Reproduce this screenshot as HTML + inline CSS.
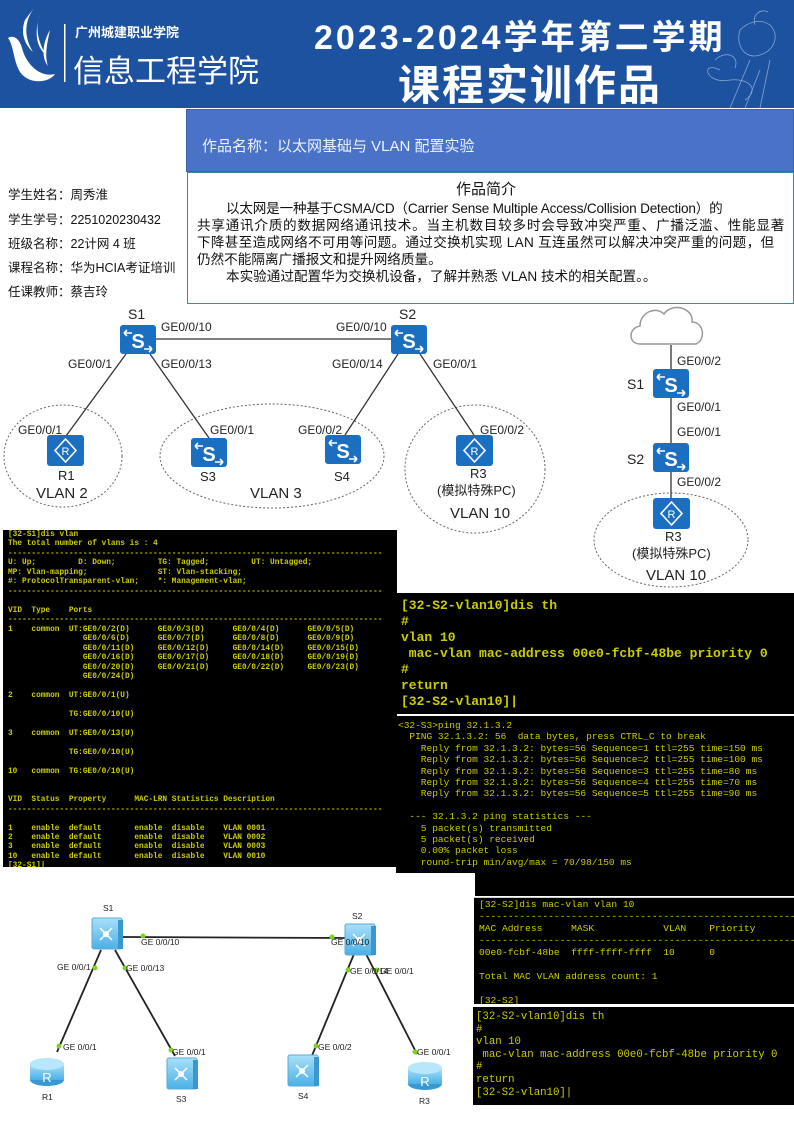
<!DOCTYPE html>
<html><head><meta charset="utf-8">
<style>
*{margin:0;padding:0;box-sizing:border-box}
body{width:794px;height:1123px;position:relative;background:#fff;overflow:hidden;font-family:"Liberation Sans","Noto Sans CJK SC",sans-serif}
.a{position:absolute;white-space:nowrap}
.term{position:absolute;background:#000;color:#cccc00;font-family:"Liberation Mono",monospace;white-space:pre;overflow:hidden}
.info{position:absolute;left:8px;font-size:12.5px;color:#111}
</style></head><body>
<!-- header -->
<div class="a" style="left:0;top:0;width:794px;height:108px;background:#1c529f"></div>
<svg class="a" style="left:0;top:0" width="794" height="110">
 <g fill="#fff">
  <path d="M34 8 C22 25 26 40 33 52 C25 45 20 33 25 20 Z"/>
  <path d="M40 14 C34 30 40 45 46 55 C38 48 33 36 40 14 Z"/>
  <path d="M8 38 C14 34 20 40 22 48 C26 64 40 78 55 74 C50 82 30 86 20 72 C13 60 14 46 8 38 Z"/>
  <path d="M50 30 C44 40 40 56 48 66 C44 54 48 40 50 30 Z"/>
 </g>
 <rect x="64" y="24" width="1.5" height="58" fill="#fff"/>
 <g fill="none" stroke="#cfdcef" stroke-width="0.8" opacity="0.6">
  <path d="M740 30 C735 45 745 60 760 55 C775 50 780 35 770 25 C760 18 748 22 740 30 Z"/>
  <path d="M755 25 C752 15 760 8 768 12"/>
  <path d="M720 70 C700 60 705 85 730 80 C750 78 760 90 745 100"/>
  <path d="M730 108 L750 60 M760 108 L770 60 M745 108 L760 70"/>
  <path d="M715 60 C725 50 740 55 735 68"/>
 </g>
</svg>
<div class="a" style="left:75px;top:22px;font-size:13px;font-weight:bold;color:#fff">广州城建职业学院</div>
<div class="a" style="left:73px;top:46px;font-size:31px;color:#fff">信息工程学院</div>
<div class="a" style="left:314px;top:10px;font-size:34px;font-weight:bold;color:#fff;letter-spacing:3px">2023-2024学年第二学期</div>
<div class="a" style="left:398px;top:52px;font-size:42px;font-weight:bold;color:#fff;letter-spacing:2px">课程实训作品</div>

<!-- title box -->
<div class="a" style="left:186px;top:109px;width:608px;height:63px;background:#4a72c6;border:1px solid #3a62b0"></div>
<div class="a" style="left:202px;top:135px;font-size:15px;color:#eef2fb">作品名称：以太网基础与 VLAN 配置实验</div>
<div class="a" style="left:187px;top:172px;width:607px;height:132px;border:1px solid #3a8a9a;background:#fff"></div>
<div class="a" style="left:456px;top:178px;font-size:15px;color:#111">作品简介</div>
<div class="a" style="left:197px;top:200px;font-size:13.6px;line-height:17px;color:#111">
<div style="padding-left:29px;letter-spacing:-0.2px">以太网是一种基于CSMA/CD（Carrier Sense Multiple Access/Collision Detection）的</div>
<div style="letter-spacing:0.75px">共享通讯介质的数据网络通讯技术。当主机数目较多时会导致冲突严重、广播泛滥、性能显著</div>
<div style="letter-spacing:0.3px">下降甚至造成网络不可用等问题。通过交换机实现 LAN 互连虽然可以解决冲突严重的问题，但</div>
<div>仍然不能隔离广播报文和提升网络质量。</div>
<div style="padding-left:29px">本实验通过配置华为交换机设备，了解并熟悉 VLAN 技术的相关配置。。</div>
</div>

<div class="info" style="top:184px">学生姓名：周秀淮</div>
<div class="info" style="top:209px">学生学号：2251020230432</div>
<div class="info" style="top:233px">班级名称：22计网 4 班</div>
<div class="info" style="top:257px">课程名称：华为HCIA考证培训</div>
<div class="info" style="top:281px">任课教师：蔡吉玲</div>

<!-- diagram 1 -->
<svg class="a" style="left:0;top:300px" width="794" height="290" font-family="Liberation Sans, Noto Sans CJK SC, sans-serif">
 <defs>
  <g id="sw"><rect x="0" y="0" width="36" height="29" rx="3" fill="#1a6fc0"/><text x="18" y="23" font-size="20" font-weight="bold" fill="#fff" text-anchor="middle">S</text><path d="M4 8 L12 8 M4 8 L7 5 M4 8 L7 11 M24 24 L32 24 M32 24 L29 21 M32 24 L29 27" stroke="#fff" stroke-width="1.6" fill="none"/></g>
  <g id="rt"><rect x="0" y="0" width="37" height="31" rx="3" fill="#1a6fc0"/><path d="M18.5 4 L29 15.5 L18.5 27 L8 15.5 Z" fill="none" stroke="#fff" stroke-width="1.6"/><text x="18.5" y="20" font-size="11" fill="#fff" text-anchor="middle">R</text></g>
 </defs>
 <g fill="none" stroke="#666" stroke-dasharray="2,2" stroke-width="1">
  <ellipse cx="63" cy="156" rx="59" ry="51"/>
  <ellipse cx="272" cy="156" rx="112" ry="52"/>
  <ellipse cx="475" cy="169" rx="70" ry="64"/>
  <ellipse cx="671" cy="240" rx="77" ry="47"/>
 </g>
 <g stroke="#333" stroke-width="1.3">
  <line x1="156" y1="39" x2="392" y2="39"/>
  <line x1="126" y1="54" x2="66" y2="136"/>
  <line x1="150" y1="54" x2="209" y2="138"/>
  <line x1="398" y1="54" x2="345" y2="135"/>
  <line x1="420" y1="54" x2="474" y2="135"/>
  <line x1="671" y1="45" x2="671" y2="200"/>
 </g>
 <use href="#sw" x="120" y="25"/><use href="#sw" x="391" y="25"/>
 <use href="#rt" x="47" y="135"/><use href="#sw" x="191" y="138"/><use href="#sw" x="325" y="135"/><use href="#rt" x="456" y="135"/>
 <use href="#sw" x="653" y="69"/><use href="#sw" x="653" y="143"/><use href="#rt" x="653" y="198"/>
 <path d="M640 44 C628 44 628 28 640 26 C640 12 656 6 664 14 C672 2 694 8 692 22 C704 22 706 40 696 44 Z" fill="#fff" stroke="#999" stroke-width="1.5"/>
 <g font-size="12" fill="#222">
  <text x="128" y="19" font-size="14">S1</text><text x="399" y="19" font-size="14">S2</text>
  <text x="161" y="31">GE0/0/10</text><text x="336" y="31">GE0/0/10</text>
  <text x="68" y="68">GE0/0/1</text><text x="161" y="68">GE0/0/13</text>
  <text x="332" y="68">GE0/0/14</text><text x="433" y="68">GE0/0/1</text>
  <text x="18" y="134">GE0/0/1</text><text x="210" y="134">GE0/0/1</text>
  <text x="298" y="134">GE0/0/2</text><text x="480" y="134">GE0/0/2</text>
  <text x="58" y="180" font-size="13">R1</text><text x="36" y="198" font-size="15">VLAN 2</text>
  <text x="200" y="181" font-size="13">S3</text><text x="334" y="181" font-size="13">S4</text>
  <text x="250" y="198" font-size="15">VLAN 3</text>
  <text x="470" y="178" font-size="13">R3</text><text x="437" y="195" font-size="13">(模拟特殊PC)</text>
  <text x="450" y="218" font-size="15">VLAN 10</text>
  <text x="677" y="65">GE0/0/2</text><text x="627" y="89" font-size="14">S1</text>
  <text x="677" y="111">GE0/0/1</text><text x="677" y="136">GE0/0/1</text>
  <text x="627" y="164" font-size="14">S2</text><text x="677" y="186">GE0/0/2</text>
  <text x="665" y="241" font-size="13">R3</text><text x="632" y="258" font-size="13">(模拟特殊PC)</text>
  <text x="646" y="280" font-size="15">VLAN 10</text>
 </g>
</svg>

<!-- terminal 1 -->
<div class="term" style="left:3px;top:530px;width:394px;height:337px;font-size:7.8px;line-height:9.47px;padding:1px 0 0 5px;font-weight:bold">[32-S1]dis vlan
The total number of vlans is : 4
--------------------------------------------------------------------------------
U: Up;         D: Down;         TG: Tagged;         UT: Untagged;
MP: Vlan-mapping;               ST: Vlan-stacking;
#: ProtocolTransparent-vlan;    *: Management-vlan;
--------------------------------------------------------------------------------

VID  Type    Ports
--------------------------------------------------------------------------------
1    common  UT:GE0/0/2(D)      GE0/0/3(D)      GE0/0/4(D)      GE0/0/5(D)
                GE0/0/6(D)      GE0/0/7(D)      GE0/0/8(D)      GE0/0/9(D)
                GE0/0/11(D)     GE0/0/12(D)     GE0/0/14(D)     GE0/0/15(D)
                GE0/0/16(D)     GE0/0/17(D)     GE0/0/18(D)     GE0/0/19(D)
                GE0/0/20(D)     GE0/0/21(D)     GE0/0/22(D)     GE0/0/23(D)
                GE0/0/24(D)

2    common  UT:GE0/0/1(U)

             TG:GE0/0/10(U)

3    common  UT:GE0/0/13(U)

             TG:GE0/0/10(U)

10   common  TG:GE0/0/10(U)


VID  Status  Property      MAC-LRN Statistics Description
--------------------------------------------------------------------------------

1    enable  default       enable  disable    VLAN 0001
2    enable  default       enable  disable    VLAN 0002
3    enable  default       enable  disable    VLAN 0003
10   enable  default       enable  disable    VLAN 0010
[32-S1]|</div>

<!-- terminal 2 -->
<div class="term" style="left:396px;top:593px;width:398px;height:121px;font-size:13px;line-height:16px;padding:5px 0 0 5px;font-weight:bold">[32-S2-vlan10]dis th
#
vlan 10
 mac-vlan mac-address 00e0-fcbf-48be priority 0
#
return
[32-S2-vlan10]|</div>

<!-- terminal 3 ping -->
<div class="term" style="left:396px;top:716px;width:398px;height:157px;font-size:9.5px;line-height:11.4px;padding:4px 0 0 2px">&lt;32-S3&gt;ping 32.1.3.2
  PING 32.1.3.2: 56  data bytes, press CTRL_C to break
    Reply from 32.1.3.2: bytes=56 Sequence=1 ttl=255 time=150 ms
    Reply from 32.1.3.2: bytes=56 Sequence=2 ttl=255 time=100 ms
    Reply from 32.1.3.2: bytes=56 Sequence=3 ttl=255 time=80 ms
    Reply from 32.1.3.2: bytes=56 Sequence=4 ttl=255 time=70 ms
    Reply from 32.1.3.2: bytes=56 Sequence=5 ttl=255 time=90 ms

  --- 32.1.3.2 ping statistics ---
    5 packet(s) transmitted
    5 packet(s) received
    0.00% packet loss
    round-trip min/avg/max = 70/98/150 ms</div>
<div class="a" style="left:475px;top:870px;width:319px;height:26px;background:#000"></div>

<!-- terminal 4 -->
<div class="term" style="left:474px;top:897px;width:320px;height:107px;font-size:9.6px;line-height:12px;padding:1px 0 0 5px;border-top:1px solid #ccc">[32-S2]dis mac-vlan vlan 10
-------------------------------------------------------
MAC Address     MASK            VLAN    Priority
-------------------------------------------------------
00e0-fcbf-48be  ffff-ffff-ffff  10      0

Total MAC VLAN address count: 1

[32-S2]</div>
<div class="term" style="left:473px;top:1007px;width:321px;height:98px;font-size:10.7px;line-height:12.6px;padding:4px 0 0 3px">[32-S2-vlan10]dis th
#
vlan 10
 mac-vlan mac-address 00e0-fcbf-48be priority 0
#
return
[32-S2-vlan10]|</div>

<!-- diagram 2 -->
<svg class="a" style="left:0;top:880px" width="470" height="243" font-family="Liberation Sans, sans-serif">
 <defs>
  <linearGradient id="g" x1="0" y1="0" x2="0" y2="1"><stop offset="0" stop-color="#a8e0f8"/><stop offset="1" stop-color="#4bb0e6"/></linearGradient>
  <g id="s2"><rect x="0" y="0" width="30" height="31" rx="2" fill="url(#g)" stroke="#5aa8d8"/><rect x="26" y="2" width="5" height="29" fill="#3a98d0"/><circle cx="14" cy="16" r="3" fill="#fff"/><path d="M8 10 L12 14 M20 10 L16 14 M8 22 L12 18 M20 22 L16 18" stroke="#fff" stroke-width="1.5"/></g>
  <g id="r2"><ellipse cx="17" cy="24" rx="17" ry="6" fill="#3a98d0"/><rect x="0" y="8" width="34" height="16" fill="url(#g)"/><ellipse cx="17" cy="8" rx="17" ry="6" fill="#b8e6fa"/><text x="17" y="26" font-size="13" fill="#fff" text-anchor="middle">R</text></g>
 </defs>
 <g stroke="#222" stroke-width="1.8">
  <line x1="123" y1="57" x2="345" y2="58"/>
  <line x1="101" y1="70" x2="57" y2="172"/>
  <line x1="115" y1="70" x2="175" y2="176"/>
  <line x1="354" y1="74" x2="311" y2="178"/>
  <line x1="366" y1="74" x2="417" y2="174"/>
 </g>
 <use href="#s2" x="92" y="38"/><use href="#s2" x="345" y="44"/>
 <use href="#r2" x="30" y="176"/><use href="#s2" x="167" y="178"/><use href="#s2" x="288" y="175"/><use href="#r2" x="408" y="180"/>
 <g fill="#7ed321">
  <circle cx="143" cy="56" r="2.5"/><circle cx="332" cy="57" r="2.5"/><circle cx="95" cy="88" r="2.5"/><circle cx="125" cy="88" r="2.5"/>
  <circle cx="59" cy="166" r="2.5"/><circle cx="171" cy="170" r="2.5"/><circle cx="348" cy="90" r="2.5"/><circle cx="377" cy="90" r="2.5"/>
  <circle cx="316" cy="166" r="2.5"/><circle cx="415" cy="172" r="2.5"/>
 </g>
 <g font-size="8.5" fill="#222">
  <text x="103" y="31">S1</text><text x="352" y="39">S2</text>
  <text x="141" y="65">GE 0/0/10</text><text x="331" y="65">GE 0/0/10</text>
  <text x="57" y="90">GE 0/0/1</text><text x="126" y="91">GE 0/0/13</text>
  <text x="63" y="170">GE 0/0/1</text><text x="172" y="175">GE 0/0/1</text>
  <text x="350" y="94">GE 0/0/14</text><text x="380" y="94">GE 0/0/1</text>
  <text x="318" y="170">GE 0/0/2</text><text x="417" y="175">GE 0/0/1</text>
  <text x="42" y="220">R1</text><text x="176" y="222">S3</text><text x="298" y="219">S4</text><text x="419" y="224">R3</text>
 </g>
</svg>
</body></html>
